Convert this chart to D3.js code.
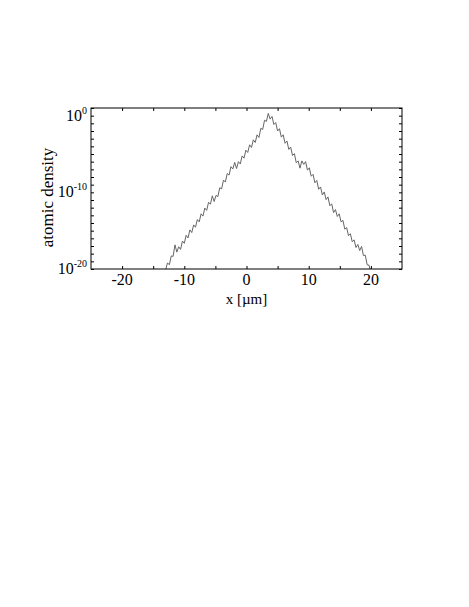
<!DOCTYPE html>
<html>
<head>
<meta charset="utf-8">
<script src="https://cdn.jsdelivr.net/npm/d3@7"></script>
<style>
  body { margin: 0; background: #fff; }
</style>
</head>
<body>
<div id="chart"></div>
<script>
// data: x in um, log10 of atomic density
var xPos = [-13.0, -12.7, -12.4, -12.1, -11.8, -11.5, -11.2, -10.9, -10.6, -10.3, -10.0,
  -9.7, -9.4, -9.1, -8.8, -8.5, -8.2, -7.9, -7.6, -7.3, -7.0, -6.7, -6.4, -6.1,
  -5.8, -5.5, -5.2, -4.9, -4.6, -4.3, -4.0, -3.7, -3.4, -3.1, -2.8, -2.5, -2.2,
  -1.9, -1.6, -1.3, -1.0, -0.7, -0.4, -0.1, 0.2, 0.5, 0.8, 1.1, 1.4, 1.7, 2.0,
  2.3, 2.6, 2.9, 3.2, 3.5, 3.8, 4.1, 4.4, 4.7, 5.0, 5.3, 5.6, 5.9, 6.2, 6.5, 6.8,
  7.1, 7.4, 7.7, 8.0, 8.3, 8.6, 8.9, 9.2, 9.5, 9.8, 10.1, 10.4, 10.7, 11.0, 11.3,
  11.6, 11.9, 12.2, 12.5, 12.8, 13.1, 13.4, 13.7, 14.0, 14.3, 14.6, 14.9, 15.2,
  15.5, 15.8, 16.1, 16.4, 16.7, 17.0, 17.3, 17.6, 17.9, 18.2, 18.5, 18.8, 19.1,
  19.4, 19.7, 19.9];
var logDensity = [-20.1, -19.2, -19.45, -18.3, -18.35, -16.85, -17.8, -17.1, -17.45, -16.35, -16.65,
  -15.6, -15.95, -14.9, -15.25, -14.25, -14.55, -13.55, -13.85, -12.8, -13.1, -12.05, -12.35, -11.3,
  -11.55, -10.45, -11.2, -10.4, -10.55, -9.4, -9.55, -8.4, -8.65, -7.55, -7.75, -6.65, -6.95,
  -6.1, -6.9, -6.0, -6.3, -5.25, -5.55, -4.5, -4.8, -3.8, -4.15, -3.15, -3.5, -2.5, -2.85,
  -1.65, -1.8, -0.6, -0.75, 0.3, -0.45, -0.1, -1.15, -0.9, -2.0, -1.7, -2.8, -2.5, -3.6, -3.3, -4.4,
  -4.1, -5.2, -4.95, -6.15, -5.9, -6.85, -5.9, -6.35, -6.0, -7.1, -6.8, -7.9, -7.65, -8.75, -8.45,
  -9.6, -9.3, -10.35, -9.95, -10.95, -10.6, -11.75, -11.5, -12.65, -12.25, -13.15, -12.8, -13.85,
  -13.65, -14.8, -14.6, -15.65, -15.4, -16.45, -16.2, -17.2, -16.8, -17.6, -17.05, -18.25, -18.2,
  -19.45, -19.5, -20.2];

var xTicks = [-20, -15, -10, -5, 0, 5, 10, 15, 20];
var xLabels = [-20, -10, 0, 10, 20];
var yTickExps = d3.range(-20, 2);
var yLabelExps = [0, -10, -20];

var data = xPos.map(function(x, i) {
  return { x: x, d: Math.pow(10, logDensity[i]) };
});

var serif = "'Liberation Serif', 'Times New Roman', 'DejaVu Serif', serif";

var svgwidth = 469, svgheight = 607;
var margin = { top: 108, left: 91 };
var width = 311, height = 161;

var svg = d3.select("#chart").append("svg")
  .attr("width", svgwidth)
  .attr("height", svgheight)
  .attr("font-family", serif);

var chartgroup = svg.append("g")
  .attr("transform", `translate(${margin.left}, ${margin.top})`);

var xscale = d3.scaleLinear().domain([-25, 25]).range([0, width]);
var yscale = d3.scaleLog().domain([1e-20, 1e1]).range([height, 0]);

svg.append("clipPath").attr("id", "clip")
  .append("rect").attr("width", width).attr("height", height);

// curve
var line = d3.line()
  .x(d => xscale(d.x))
  .y(d => yscale(d.d));

chartgroup.append("path")
  .datum(data)
  .attr("clip-path", "url(#clip)")
  .attr("d", line)
  .attr("fill", "none")
  .attr("stroke", "#666")
  .attr("stroke-width", 1);

// ticks, pointing inward on all four sides
function styleAxis(g) {
  g.select(".domain").remove();
  g.selectAll(".tick line").attr("stroke", "#000");
}

var ytickvals = yTickExps.map(e => Math.pow(10, e));

chartgroup.append("g")
  .call(d3.axisBottom(xscale).tickValues(xTicks).tickSize(3).tickFormat(""))
  .call(styleAxis);
chartgroup.append("g")
  .attr("transform", `translate(0, ${height})`)
  .call(d3.axisTop(xscale).tickValues(xTicks).tickSize(3).tickFormat(""))
  .call(styleAxis);
chartgroup.append("g")
  .call(d3.axisRight(yscale).tickValues(ytickvals).tickSize(3).tickFormat(""))
  .call(styleAxis);
chartgroup.append("g")
  .attr("transform", `translate(${width}, 0)`)
  .call(d3.axisLeft(yscale).tickValues(ytickvals).tickSize(3).tickFormat(""))
  .call(styleAxis);

// frame
chartgroup.append("rect")
  .attr("width", width)
  .attr("height", height)
  .attr("fill", "none")
  .attr("stroke", "#000")
  .attr("stroke-width", 1);

// x tick labels
chartgroup.selectAll(".xlab").data(xLabels).enter()
  .append("text")
  .attr("x", d => xscale(d))
  .attr("y", height + 16)
  .attr("text-anchor", "middle")
  .attr("font-size", "16px")
  .text(d => d);

// y tick labels 10^n
var ylab = chartgroup.selectAll(".ylab").data(yLabelExps).enter()
  .append("text")
  .attr("x", -4)
  .attr("y", d => yscale(Math.pow(10, d)) + 5)
  .attr("text-anchor", "end")
  .attr("font-size", "16px");
ylab.append("tspan").text("10");
ylab.append("tspan")
  .attr("dy", -7)
  .attr("font-size", "10px")
  .text(d => d);

// axis titles
chartgroup.append("text")
  .attr("transform", "rotate(-90)")
  .attr("x", -height / 2 - 9)
  .attr("y", -38)
  .attr("text-anchor", "middle")
  .attr("font-size", "17px")
  .text("atomic density");

chartgroup.append("text")
  .attr("x", width / 2)
  .attr("y", height + 35)
  .attr("text-anchor", "middle")
  .attr("font-size", "15px")
  .text("x [\u00b5m]");
</script>
</body>
</html>
